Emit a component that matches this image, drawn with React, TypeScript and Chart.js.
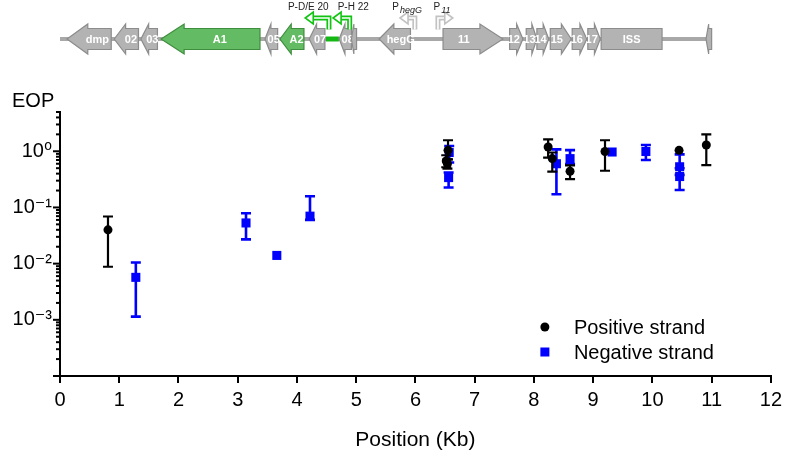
import React, { useEffect, useRef } from 'react';
import { Chart, registerables } from 'chart.js';

Chart.register(...registerables);

const FONT = "'Liberation Sans', Arial, 'DejaVu Sans', sans-serif";

// ---- Data: positive strand (black circles) ----
const posX = [0.81, 6.55, 6.52, 6.54, 8.24, 8.31, 8.61, 9.2, 10.45, 10.91];
const posY = [0.04, 1.04, 0.67, 0.6, 1.19, 0.74, 0.44, 0.99, 1.04, 1.29];
const posLo = [0.0088, 0.72, 0.52, 0.49, 0.77, 0.435, 0.32, 0.45, 1.04, 0.565];
const posHi = [0.069, 1.57, 0.85, 0.72, 1.63, 0.95, 0.56, 1.57, 1.04, 2.0];

// ---- Data: negative strand (blue squares) ----
const negX = [1.28, 3.14, 3.66, 4.22, 6.57, 6.56, 8.38, 8.61, 9.32, 9.89, 10.46, 10.46];
const negY = [0.0057, 0.053, 0.014, 0.07, 0.95, 0.34, 0.6, 0.74, 0.97, 0.99, 0.53, 0.355];
const negLo = [0.00114, 0.027, 0.014, 0.06, 0.63, 0.226, 0.172, 0.59, 0.97, 0.7, 0.38, 0.205];
const negHi = [0.0105, 0.079, 0.014, 0.158, 1.24, 0.42, 1.08, 1.05, 0.97, 1.29, 0.88, 0.5];

// ---- Axis ticks ----
const xTickValues = [0, 1, 2, 3, 4, 5, 6, 7, 8, 9, 10, 11, 12];
const yDecades = [1e-4, 1e-3, 1e-2, 1e-1, 1];
const yMultipliers = [1, 2, 3, 4, 5, 6, 7, 8, 9];
const yTopMultipliers = [2, 3, 4, 5];
const yLabelled = [1e-3, 1e-2, 1e-1, 1];
const supDigits: Record<string, string> = { '0': '⁰', '1': '¹', '2': '²', '3': '³', '4': '⁴', '-': '⁻' };

// ---- Gene map (kb) ----
const geneNames = ['dmp', '02', '03', 'A1', '05', 'A2', '07', '08', '', 'hegG', '11', '12', '13', '14', '15', '16', '17', 'ISS', ''];
const geneStart = [0.118, 0.915, 1.365, 1.707, 3.46, 3.713, 4.207, 4.713, 4.92, 5.387, 6.466, 7.59, 7.87, 8.05, 8.276, 8.646, 8.91, 9.135, 10.905];
const geneEnd = [0.865, 1.325, 1.645, 3.376, 3.674, 4.118, 4.472, 4.92, 5.006, 5.916, 7.477, 7.814, 8.05, 8.25, 8.63, 8.893, 9.12, 10.163, 11.0];
const geneStrand = [-1, -1, -1, -1, -1, -1, -1, -1, -1, -1, 1, 1, 1, 1, 1, 1, 1, 0, -1];
const geneGreen = ['A1', 'A2'];
const mapEnd = 11.0;
const greenLink = [4.49, 4.707];

// promoters: base position, tip position, label, label position, colour kind
const promBase = [4.54, 4.89, 5.99, 6.38];
const promTip = [4.14, 4.61, 5.74, 6.63];
const promMain = ['P-D/E 20', 'P-H 22', 'P', 'P'];
const promSub = ['', '', 'hegG', '11'];
const promLabelAt = [4.19, 4.95, 5.86, 6.45];
const promGreen = [true, true, false, false];

const supify = (n: number) => String(n).split('').map((c) => supDigits[c] || c).join('');

const errorBars: Record<number, { lo: number[]; hi: number[]; x: number[]; color: string; width: number }> = {
  0: { x: posX, lo: posLo, hi: posHi, color: '#000000', width: 2.2 },
  1: { x: negX, lo: negLo, hi: negHi, color: '#0000ff', width: 2.6 },
};

const errorBarPlugin = {
  id: 'errorBars',
  beforeDatasetDraw(chart: any, args: any) {
    const eb = errorBars[args.index];
    if (!eb) return;
    const { ctx } = chart;
    const xs = chart.scales.x;
    const ys = chart.scales.y;
    ctx.save();
    ctx.strokeStyle = eb.color;
    ctx.lineWidth = eb.width;
    eb.x.forEach((xv, i) => {
      if (eb.lo[i] === eb.hi[i]) return;
      const px = xs.getPixelForValue(xv);
      const pLo = ys.getPixelForValue(eb.lo[i]);
      const pHi = ys.getPixelForValue(eb.hi[i]);
      ctx.beginPath();
      ctx.moveTo(px, pLo);
      ctx.lineTo(px, pHi);
      ctx.moveTo(px - 5, pLo);
      ctx.lineTo(px + 5, pLo);
      ctx.moveTo(px - 5, pHi);
      ctx.lineTo(px + 5, pHi);
      ctx.stroke();
    });
    ctx.restore();
  },
};

const yTickPlugin = {
  id: 'yTickMarks',
  afterDraw(chart: any) {
    const { ctx } = chart;
    const ys = chart.scales.y;
    const left = chart.chartArea.left;
    ctx.save();
    ctx.strokeStyle = '#000';
    ctx.lineWidth = 2;
    ys.ticks.forEach((t: any) => {
      const py = ys.getPixelForValue(t.value);
      const e = Math.log10(t.value);
      const major = Math.abs(e - Math.round(e)) < 1e-9;
      const len = major ? 7 : 4;
      ctx.beginPath();
      ctx.moveTo(left - len, py);
      ctx.lineTo(left, py);
      ctx.stroke();
    });
    // axis title "EOP"
    ctx.fillStyle = '#000';
    ctx.font = `20px ${FONT}`;
    ctx.textAlign = 'left';
    ctx.textBaseline = 'middle';
    ctx.fillText('EOP', 12, 101);
    ctx.restore();
  },
};

const legendPlugin = {
  id: 'insideLegend',
  afterDraw(chart: any) {
    const { ctx, chartArea } = chart;
    const mx = chartArea.right - 226;
    const y1 = chartArea.bottom - 49;
    const y2 = chartArea.bottom - 24;
    ctx.save();
    ctx.fillStyle = '#000';
    ctx.beginPath();
    ctx.arc(mx, y1, 4.5, 0, Math.PI * 2);
    ctx.fill();
    ctx.fillStyle = '#0000ff';
    ctx.fillRect(mx - 4.5, y2 - 4.5, 9, 9);
    ctx.fillStyle = '#000';
    ctx.font = `20px ${FONT}`;
    ctx.textAlign = 'left';
    ctx.textBaseline = 'middle';
    ctx.fillText(chart.data.datasets[0].label, mx + 29, y1 + 1);
    ctx.fillText(chart.data.datasets[1].label, mx + 29, y2 + 1);
    ctx.restore();
  },
};

const geneMapPlugin = {
  id: 'geneMap',
  afterDraw(chart: any) {
    const { ctx } = chart;
    const xs = chart.scales.x;
    const yc = 39;
    const bodyH = 10.5;
    const headH = 15;
    ctx.save();
    // backbone
    ctx.strokeStyle = '#a8a8a8';
    ctx.lineWidth = 4;
    ctx.beginPath();
    ctx.moveTo(xs.getPixelForValue(0), yc);
    ctx.lineTo(xs.getPixelForValue(mapEnd), yc);
    ctx.stroke();
    // green link
    ctx.strokeStyle = '#14b814';
    ctx.lineWidth = 5;
    ctx.beginPath();
    ctx.moveTo(xs.getPixelForValue(greenLink[0]), yc);
    ctx.lineTo(xs.getPixelForValue(greenLink[1]), yc);
    ctx.stroke();

    geneNames.forEach((name, i) => {
      const x0 = xs.getPixelForValue(geneStart[i]);
      const x1 = xs.getPixelForValue(geneEnd[i]);
      const dir = geneStrand[i];
      const len = x1 - x0;
      const hl = Math.min(len * 0.47, 23);
      const green = geneGreen.includes(name);
      ctx.beginPath();
      if (dir < 0) {
        const hb = x0 + hl;
        ctx.moveTo(x0, yc);
        ctx.lineTo(hb, yc - headH);
        ctx.lineTo(hb, yc - bodyH);
        ctx.lineTo(x1, yc - bodyH);
        ctx.lineTo(x1, yc + bodyH);
        ctx.lineTo(hb, yc + bodyH);
        ctx.lineTo(hb, yc + headH);
      } else if (dir > 0) {
        const hb = x1 - hl;
        ctx.moveTo(x1, yc);
        ctx.lineTo(hb, yc - headH);
        ctx.lineTo(hb, yc - bodyH);
        ctx.lineTo(x0, yc - bodyH);
        ctx.lineTo(x0, yc + bodyH);
        ctx.lineTo(hb, yc + bodyH);
        ctx.lineTo(hb, yc + headH);
      } else {
        ctx.rect(x0, yc - bodyH, len, bodyH * 2);
      }
      ctx.closePath();
      ctx.fillStyle = green ? '#63bb63' : '#b3b3b3';
      ctx.fill();
      ctx.strokeStyle = green ? '#3e8e3e' : '#8c8c8c';
      ctx.lineWidth = 1.2;
      ctx.stroke();
      if (name) {
        const cx = (x0 + x1) / 2 - (dir || 0) * hl * 0.4;
        ctx.fillStyle = '#ffffff';
        ctx.font = `bold 11px ${FONT}`;
        ctx.textAlign = 'center';
        ctx.textBaseline = 'middle';
        ctx.fillText(name, cx, yc + 0.5);
      }
    });

    // promoters
    const yTop = 18;
    promBase.forEach((b, i) => {
      const xb = xs.getPixelForValue(b);
      const xt = xs.getPixelForValue(promTip[i]);
      const dir = xt < xb ? -1 : 1;
      const headLen = 8;
      const xh = xt - dir * headLen;
      const col = promGreen[i] ? '#12c412' : '#c2c2c2';
      ctx.lineJoin = 'miter';
      ctx.beginPath();
      ctx.moveTo(xb, yc - bodyH + 1);
      ctx.lineTo(xb, yTop);
      ctx.lineTo(xh, yTop);
      ctx.strokeStyle = col;
      ctx.lineWidth = 5;
      ctx.stroke();
      ctx.strokeStyle = '#ffffff';
      ctx.lineWidth = 1.6;
      ctx.stroke();
      ctx.beginPath();
      ctx.moveTo(xt, yTop);
      ctx.lineTo(xh, yTop - 6);
      ctx.lineTo(xh, yTop + 6);
      ctx.closePath();
      ctx.fillStyle = '#ffffff';
      ctx.fill();
      ctx.strokeStyle = col;
      ctx.lineWidth = 1.6;
      ctx.stroke();

      // label
      const lx = xs.getPixelForValue(promLabelAt[i]);
      ctx.fillStyle = '#222';
      ctx.textBaseline = 'middle';
      ctx.font = `10px ${FONT}`;
      if (!promSub[i]) {
        ctx.textAlign = 'center';
        ctx.fillText(promMain[i], lx, 7);
      } else {
        ctx.font = `10px ${FONT}`;
        const w1 = ctx.measureText(promMain[i]).width;
        ctx.font = `italic 9px ${FONT}`;
        const w2 = ctx.measureText(promSub[i]).width;
        const start = lx - (w1 + w2 + 1) / 2;
        ctx.textAlign = 'left';
        ctx.font = `10px ${FONT}`;
        ctx.fillText(promMain[i], start, 7);
        ctx.font = `italic 9px ${FONT}`;
        ctx.fillText(promSub[i], start + w1 + 1, 10);
      }
    });
    ctx.restore();
  },
};

export default function App() {
  const ref = useRef<HTMLCanvasElement>(null);
  useEffect(() => {
    document.body.style.margin = '0';
    if (!ref.current) return;
    const yTicks: number[] = [];
    yDecades.forEach((d) => {
      if (d < 1) yMultipliers.forEach((m) => yTicks.push(d * m));
      else { yTicks.push(1); yTopMultipliers.forEach((m) => yTicks.push(m)); }
    });
    const chart = new Chart(ref.current, {
      type: 'scatter',
      data: {
        datasets: [
          {
            label: 'Positive strand',
            data: posX.map((x, i) => ({ x, y: posY[i] })),
            pointStyle: 'circle',
            pointRadius: 4.5,
            pointHoverRadius: 4.5,
            backgroundColor: '#000000',
            borderWidth: 0,
          },
          {
            label: 'Negative strand',
            data: negX.map((x, i) => ({ x, y: negY[i] })),
            pointStyle: 'rect',
            pointRadius: 6.4,
            pointHoverRadius: 6.4,
            backgroundColor: '#0000ff',
            borderWidth: 0,
          },
        ],
      },
      options: {
        animation: false,
        responsive: true,
        maintainAspectRatio: false,
        layout: { padding: { top: 112, right: 15, left: 0, bottom: 0 } },
        plugins: { legend: { display: false }, tooltip: { enabled: false } },
        scales: {
          x: {
            type: 'linear',
            min: 0,
            max: 12,
            afterBuildTicks: (s: any) => { s.ticks = xTickValues.map((v) => ({ value: v })); },
            afterFit: (s: any) => { s.height = 84; },
            ticks: { color: '#000', font: { family: FONT, size: 20 }, padding: 5, autoSkip: false, maxRotation: 0 },
            grid: { display: true, drawOnChartArea: false, drawTicks: true, tickLength: 7, color: '#000', lineWidth: 2 },
            border: { display: true, color: '#000', width: 2 },
            title: { display: true, text: 'Position (Kb)', color: '#000', font: { family: FONT, size: 21 }, padding: { top: 0, bottom: 7 } },
          },
          y: {
            type: 'logarithmic',
            min: 1e-4,
            max: 5,
            afterBuildTicks: (s: any) => { s.ticks = yTicks.map((v) => ({ value: v })); },
            afterFit: (s: any) => { s.width = 60; },
            ticks: {
              color: '#000',
              font: { family: FONT, size: 20 },
              padding: 8,
              autoSkip: false,
              callback: (v: any) => {
                const val = Number(v);
                const hit = yLabelled.find((l) => Math.abs(l - val) / l < 1e-6);
                if (hit === undefined) return '';
                return '10' + supify(Math.round(Math.log10(hit)));
              },
            },
            grid: { display: true, drawOnChartArea: false, drawTicks: false },
            border: { display: true, color: '#000', width: 2 },
          },
        },
      },
      plugins: [errorBarPlugin, yTickPlugin, legendPlugin, geneMapPlugin],
    });
    return () => chart.destroy();
  }, []);
  return (
    <div style={{ width: 787, height: 460, position: 'relative' }}>
      <canvas ref={ref} />
    </div>
  );
}
